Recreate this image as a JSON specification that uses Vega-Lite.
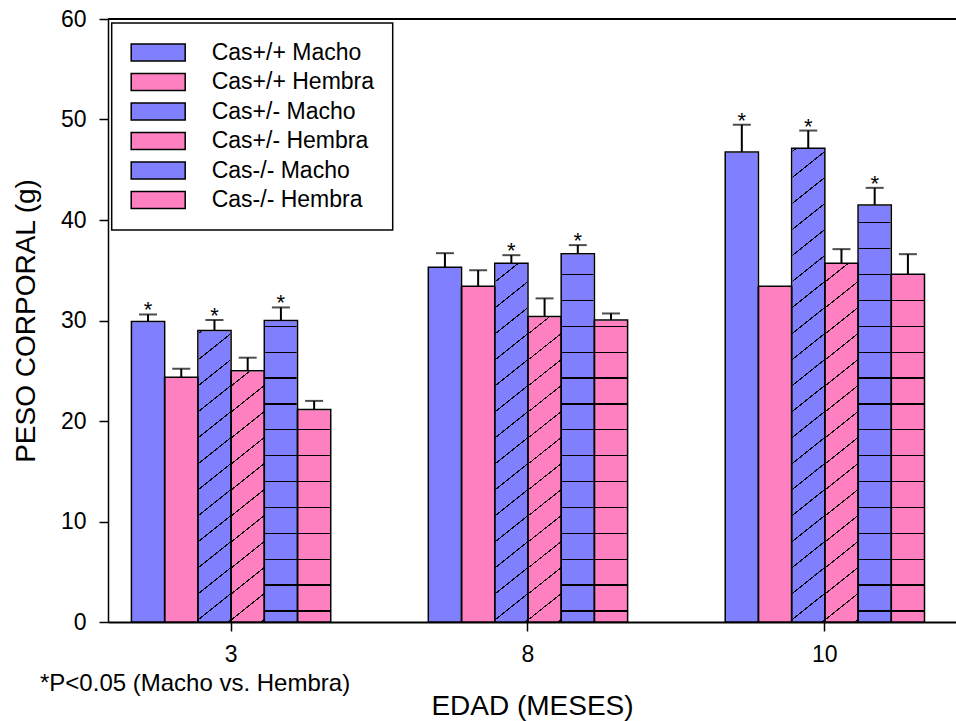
{
  "$schema": "https://vega.github.io/schema/vega-lite/v6.json",
  "width": 848,
  "height": 603,
  "autosize": {"type": "none"},
  "padding": {"left": 108, "top": 19, "right": 0, "bottom": 99},
  "config": {
    "view": {"stroke": null},
    "font": "Liberation Sans",
    "axis": {
      "domainColor": "black",
      "tickColor": "black",
      "labelColor": "black",
      "titleColor": "black",
      "labelFontSize": 23,
      "titleFontSize": 28,
      "titleFontWeight": "normal",
      "tickSize": 9,
      "tickWidth": 1.5,
      "domainWidth": 1.5,
      "grid": false
    }
  },
  "title": {
    "text": "*P<0.05 (Macho vs. Hembra)",
    "orient": "bottom",
    "anchor": "start",
    "frame": "group",
    "dx": -68,
    "dy": -52,
    "fontSize": 24,
    "fontWeight": "normal",
    "color": "black"
  },
  "data": {
    "values": [
      {"edad": 3, "serie": "Cas+/+ Macho", "peso": 29.9, "sup": 30.6, "sig": "*"},
      {"edad": 3, "serie": "Cas+/+ Hembra", "peso": 24.35, "sup": 25.2, "sig": ""},
      {"edad": 3, "serie": "Cas+/- Macho", "peso": 29.0, "sup": 30.05, "sig": "*"},
      {"edad": 3, "serie": "Cas+/- Hembra", "peso": 25.0, "sup": 26.3, "sig": ""},
      {"edad": 3, "serie": "Cas-/- Macho", "peso": 30.0, "sup": 31.3, "sig": "*"},
      {"edad": 3, "serie": "Cas-/- Hembra", "peso": 21.15, "sup": 22.0, "sig": ""},
      {"edad": 8, "serie": "Cas+/+ Macho", "peso": 35.3, "sup": 36.7, "sig": ""},
      {"edad": 8, "serie": "Cas+/+ Hembra", "peso": 33.4, "sup": 35.0, "sig": ""},
      {"edad": 8, "serie": "Cas+/- Macho", "peso": 35.7, "sup": 36.5, "sig": "*"},
      {"edad": 8, "serie": "Cas+/- Hembra", "peso": 30.4, "sup": 32.2, "sig": ""},
      {"edad": 8, "serie": "Cas-/- Macho", "peso": 36.65, "sup": 37.5, "sig": "*"},
      {"edad": 8, "serie": "Cas-/- Hembra", "peso": 30.05, "sup": 30.7, "sig": ""},
      {"edad": 10, "serie": "Cas+/+ Macho", "peso": 46.77, "sup": 49.48, "sig": "*"},
      {"edad": 10, "serie": "Cas+/+ Hembra", "peso": 33.4, "sup": null, "sig": ""},
      {"edad": 10, "serie": "Cas+/- Macho", "peso": 47.13, "sup": 48.9, "sig": "*"},
      {"edad": 10, "serie": "Cas+/- Hembra", "peso": 35.7, "sup": 37.1, "sig": ""},
      {"edad": 10, "serie": "Cas-/- Macho", "peso": 41.5, "sup": 43.2, "sig": "*"},
      {"edad": 10, "serie": "Cas-/- Hembra", "peso": 34.6, "sup": 36.6, "sig": ""}
    ]
  },
  "layer": [
    {
      "mark": {"type": "bar"},
      "encoding": {
        "x": {"field": "edad", "type": "ordinal",
          "scale": {"domain": [3, 8, 10], "paddingInner": 0.3287, "paddingOuter": 0.0925, "align": 0.4266},
          "axis": {"title": "EDAD (MESES)", "labelAngle": 0, "labelPadding": 12, "titlePadding": 26, "domainWidth": 2}},
        "xOffset": {"field": "serie", "type": "nominal", "sort": null,
          "scale": {"domain": ["Cas+/+ Macho", "Cas+/+ Hembra", "Cas+/- Macho", "Cas+/- Hembra", "Cas-/- Macho", "Cas-/- Hembra"], "paddingInner": 0, "paddingOuter": 0}},
        "y": {"field": "peso", "type": "quantitative", "scale": {"domain": [0, 60], "nice": false},
          "axis": {"values": [0, 10, 20, 30, 40, 50, 60], "title": "PESO CORPORAL (g)", "labelPadding": 13, "titlePadding": 20}},
        "fill": {"field": "serie", "type": "nominal", "sort": null,
          "scale": {"domain": ["Cas+/+ Macho", "Cas+/+ Hembra", "Cas+/- Macho", "Cas+/- Hembra", "Cas-/- Macho", "Cas-/- Hembra"],
                    "range": ["#8080FF", "#FF80C0", "#8080FF", "#FF80C0", "#8080FF", "#FF80C0"]},
          "legend": {
            "orient": "none", "legendX": 3.7, "legendY": 4, "title": null,
            "symbolType": "M-3.176,-1H3.176V1H-3.176Z", "symbolSize": 289,
            "symbolOffset": 17, "labelOffset": 42,
            "symbolStrokeColor": "black", "symbolStrokeWidth": 1.5,
            "labelFontSize": 23, "labelColor": "black", "labelLimit": 400,
            "padding": 18, "rowPadding": 5.5,
            "fillColor": "white", "strokeColor": "black",
            "encode": {
              "legend": {"update": {"strokeWidth": {"value": 1.5}}},
              "symbols": {"update": {"stroke": {"value": "black"}, "strokeWidth": {"value": 1.5}}}
            }
          }}
      }
    },
    {
      "transform": [{"filter": "datum.serie === 'Cas+/- Macho' || datum.serie === 'Cas+/- Hembra'"}],
      "mark": {"type": "bar", "stroke": null, "color": {"gradient": "linear", "x1": 0, "y1": 0, "x2": 0.0459, "y2": 1.042, "stops": [
        {"offset": 0, "color": "rgba(0,0,0,0)"},
        {"offset": 0.1689, "color": "rgba(0,0,0,0)"}, {"offset": 0.1689, "color": "#000"}, {"offset": 0.1711, "color": "#000"}, {"offset": 0.1711, "color": "rgba(0,0,0,0)"},
        {"offset": 0.2102, "color": "rgba(0,0,0,0)"}, {"offset": 0.2102, "color": "#000"}, {"offset": 0.2124, "color": "#000"}, {"offset": 0.2124, "color": "rgba(0,0,0,0)"},
        {"offset": 0.2515, "color": "rgba(0,0,0,0)"}, {"offset": 0.2515, "color": "#000"}, {"offset": 0.2537, "color": "#000"}, {"offset": 0.2537, "color": "rgba(0,0,0,0)"},
        {"offset": 0.2928, "color": "rgba(0,0,0,0)"}, {"offset": 0.2928, "color": "#000"}, {"offset": 0.2950, "color": "#000"}, {"offset": 0.2950, "color": "rgba(0,0,0,0)"},
        {"offset": 0.3341, "color": "rgba(0,0,0,0)"}, {"offset": 0.3341, "color": "#000"}, {"offset": 0.3363, "color": "#000"}, {"offset": 0.3363, "color": "rgba(0,0,0,0)"},
        {"offset": 0.3754, "color": "rgba(0,0,0,0)"}, {"offset": 0.3754, "color": "#000"}, {"offset": 0.3776, "color": "#000"}, {"offset": 0.3776, "color": "rgba(0,0,0,0)"},
        {"offset": 0.4167, "color": "rgba(0,0,0,0)"}, {"offset": 0.4167, "color": "#000"}, {"offset": 0.4189, "color": "#000"}, {"offset": 0.4189, "color": "rgba(0,0,0,0)"},
        {"offset": 0.4580, "color": "rgba(0,0,0,0)"}, {"offset": 0.4580, "color": "#000"}, {"offset": 0.4602, "color": "#000"}, {"offset": 0.4602, "color": "rgba(0,0,0,0)"},
        {"offset": 0.4993, "color": "rgba(0,0,0,0)"}, {"offset": 0.4993, "color": "#000"}, {"offset": 0.5015, "color": "#000"}, {"offset": 0.5015, "color": "rgba(0,0,0,0)"},
        {"offset": 0.5406, "color": "rgba(0,0,0,0)"}, {"offset": 0.5406, "color": "#000"}, {"offset": 0.5428, "color": "#000"}, {"offset": 0.5428, "color": "rgba(0,0,0,0)"},
        {"offset": 0.5819, "color": "rgba(0,0,0,0)"}, {"offset": 0.5819, "color": "#000"}, {"offset": 0.5841, "color": "#000"}, {"offset": 0.5841, "color": "rgba(0,0,0,0)"},
        {"offset": 0.6232, "color": "rgba(0,0,0,0)"}, {"offset": 0.6232, "color": "#000"}, {"offset": 0.6254, "color": "#000"}, {"offset": 0.6254, "color": "rgba(0,0,0,0)"},
        {"offset": 0.6645, "color": "rgba(0,0,0,0)"}, {"offset": 0.6645, "color": "#000"}, {"offset": 0.6667, "color": "#000"}, {"offset": 0.6667, "color": "rgba(0,0,0,0)"},
        {"offset": 0.7058, "color": "rgba(0,0,0,0)"}, {"offset": 0.7058, "color": "#000"}, {"offset": 0.7080, "color": "#000"}, {"offset": 0.7080, "color": "rgba(0,0,0,0)"},
        {"offset": 0.7471, "color": "rgba(0,0,0,0)"}, {"offset": 0.7471, "color": "#000"}, {"offset": 0.7493, "color": "#000"}, {"offset": 0.7493, "color": "rgba(0,0,0,0)"},
        {"offset": 0.7884, "color": "rgba(0,0,0,0)"}, {"offset": 0.7884, "color": "#000"}, {"offset": 0.7906, "color": "#000"}, {"offset": 0.7906, "color": "rgba(0,0,0,0)"},
        {"offset": 0.8297, "color": "rgba(0,0,0,0)"}, {"offset": 0.8297, "color": "#000"}, {"offset": 0.8319, "color": "#000"}, {"offset": 0.8319, "color": "rgba(0,0,0,0)"},
        {"offset": 0.8710, "color": "rgba(0,0,0,0)"}, {"offset": 0.8710, "color": "#000"}, {"offset": 0.8732, "color": "#000"}, {"offset": 0.8732, "color": "rgba(0,0,0,0)"},
        {"offset": 0.9123, "color": "rgba(0,0,0,0)"}, {"offset": 0.9123, "color": "#000"}, {"offset": 0.9145, "color": "#000"}, {"offset": 0.9145, "color": "rgba(0,0,0,0)"},
        {"offset": 0.9536, "color": "rgba(0,0,0,0)"}, {"offset": 0.9536, "color": "#000"}, {"offset": 0.9558, "color": "#000"}, {"offset": 0.9558, "color": "rgba(0,0,0,0)"},
        {"offset": 0.9949, "color": "rgba(0,0,0,0)"}, {"offset": 0.9949, "color": "#000"}, {"offset": 0.9971, "color": "#000"}, {"offset": 0.9971, "color": "rgba(0,0,0,0)"},
        {"offset": 1, "color": "rgba(0,0,0,0)"}
      ]}},
      "encoding": {
        "x": {"field": "edad", "type": "ordinal"},
        "xOffset": {"field": "serie", "type": "nominal", "sort": null},
        "y": {"datum": 60},
        "y2": {"datum": 0}
      }
    },
    {
      "transform": [{"filter": "datum.serie === 'Cas-/- Macho' || datum.serie === 'Cas-/- Hembra'"}],
      "mark": {"type": "bar", "stroke": null, "color": {"gradient": "linear", "x1": 0, "y1": 0, "x2": 0, "y2": 1, "stops": [
        {"offset": 0, "color": "rgba(0,0,0,0)"},
        {"offset": 0.1652, "color": "rgba(0,0,0,0)"}, {"offset": 0.1652, "color": "#000"}, {"offset": 0.1674, "color": "#000"}, {"offset": 0.1674, "color": "rgba(0,0,0,0)"},
        {"offset": 0.2081, "color": "rgba(0,0,0,0)"}, {"offset": 0.2081, "color": "#000"}, {"offset": 0.2103, "color": "#000"}, {"offset": 0.2103, "color": "rgba(0,0,0,0)"},
        {"offset": 0.2511, "color": "rgba(0,0,0,0)"}, {"offset": 0.2511, "color": "#000"}, {"offset": 0.2533, "color": "#000"}, {"offset": 0.2533, "color": "rgba(0,0,0,0)"},
        {"offset": 0.2940, "color": "rgba(0,0,0,0)"}, {"offset": 0.2940, "color": "#000"}, {"offset": 0.2962, "color": "#000"}, {"offset": 0.2962, "color": "rgba(0,0,0,0)"},
        {"offset": 0.3369, "color": "rgba(0,0,0,0)"}, {"offset": 0.3369, "color": "#000"}, {"offset": 0.3391, "color": "#000"}, {"offset": 0.3391, "color": "rgba(0,0,0,0)"},
        {"offset": 0.3798, "color": "rgba(0,0,0,0)"}, {"offset": 0.3798, "color": "#000"}, {"offset": 0.3820, "color": "#000"}, {"offset": 0.3820, "color": "rgba(0,0,0,0)"},
        {"offset": 0.4227, "color": "rgba(0,0,0,0)"}, {"offset": 0.4227, "color": "#000"}, {"offset": 0.4249, "color": "#000"}, {"offset": 0.4249, "color": "rgba(0,0,0,0)"},
        {"offset": 0.4657, "color": "rgba(0,0,0,0)"}, {"offset": 0.4657, "color": "#000"}, {"offset": 0.4679, "color": "#000"}, {"offset": 0.4679, "color": "rgba(0,0,0,0)"},
        {"offset": 0.5086, "color": "rgba(0,0,0,0)"}, {"offset": 0.5086, "color": "#000"}, {"offset": 0.5108, "color": "#000"}, {"offset": 0.5108, "color": "rgba(0,0,0,0)"},
        {"offset": 0.5515, "color": "rgba(0,0,0,0)"}, {"offset": 0.5515, "color": "#000"}, {"offset": 0.5537, "color": "#000"}, {"offset": 0.5537, "color": "rgba(0,0,0,0)"},
        {"offset": 0.5944, "color": "rgba(0,0,0,0)"}, {"offset": 0.5944, "color": "#000"}, {"offset": 0.5966, "color": "#000"}, {"offset": 0.5966, "color": "rgba(0,0,0,0)"},
        {"offset": 0.6373, "color": "rgba(0,0,0,0)"}, {"offset": 0.6373, "color": "#000"}, {"offset": 0.6395, "color": "#000"}, {"offset": 0.6395, "color": "rgba(0,0,0,0)"},
        {"offset": 0.6802, "color": "rgba(0,0,0,0)"}, {"offset": 0.6802, "color": "#000"}, {"offset": 0.6824, "color": "#000"}, {"offset": 0.6824, "color": "rgba(0,0,0,0)"},
        {"offset": 0.7232, "color": "rgba(0,0,0,0)"}, {"offset": 0.7232, "color": "#000"}, {"offset": 0.7254, "color": "#000"}, {"offset": 0.7254, "color": "rgba(0,0,0,0)"},
        {"offset": 0.7661, "color": "rgba(0,0,0,0)"}, {"offset": 0.7661, "color": "#000"}, {"offset": 0.7683, "color": "#000"}, {"offset": 0.7683, "color": "rgba(0,0,0,0)"},
        {"offset": 0.8090, "color": "rgba(0,0,0,0)"}, {"offset": 0.8090, "color": "#000"}, {"offset": 0.8112, "color": "#000"}, {"offset": 0.8112, "color": "rgba(0,0,0,0)"},
        {"offset": 0.8519, "color": "rgba(0,0,0,0)"}, {"offset": 0.8519, "color": "#000"}, {"offset": 0.8541, "color": "#000"}, {"offset": 0.8541, "color": "rgba(0,0,0,0)"},
        {"offset": 0.8949, "color": "rgba(0,0,0,0)"}, {"offset": 0.8949, "color": "#000"}, {"offset": 0.8971, "color": "#000"}, {"offset": 0.8971, "color": "rgba(0,0,0,0)"},
        {"offset": 0.9378, "color": "rgba(0,0,0,0)"}, {"offset": 0.9378, "color": "#000"}, {"offset": 0.9400, "color": "#000"}, {"offset": 0.9400, "color": "rgba(0,0,0,0)"},
        {"offset": 0.9807, "color": "rgba(0,0,0,0)"}, {"offset": 0.9807, "color": "#000"}, {"offset": 0.9829, "color": "#000"}, {"offset": 0.9829, "color": "rgba(0,0,0,0)"},
        {"offset": 1, "color": "rgba(0,0,0,0)"}
      ]}},
      "encoding": {
        "x": {"field": "edad", "type": "ordinal"},
        "xOffset": {"field": "serie", "type": "nominal", "sort": null},
        "y": {"datum": 60},
        "y2": {"datum": 0}
      }
    },
    {
      "mark": {"type": "bar", "fill": "white", "stroke": "white", "strokeWidth": 1.5},
      "encoding": {
        "x": {"field": "edad", "type": "ordinal"},
        "xOffset": {"field": "serie", "type": "nominal", "sort": null},
        "y": {"field": "peso", "type": "quantitative"},
        "y2": {"datum": 60}
      }
    },
    {
      "mark": {"type": "bar", "fill": null, "fillOpacity": 0, "stroke": "black", "strokeWidth": 1.5},
      "encoding": {
        "x": {"field": "edad", "type": "ordinal"},
        "xOffset": {"field": "serie", "type": "nominal", "sort": null},
        "y": {"field": "peso", "type": "quantitative"}
      }
    },
    {
      "transform": [{"filter": "datum.sup != null"}],
      "mark": {"type": "rule", "stroke": "black", "strokeWidth": 2},
      "encoding": {
        "x": {"field": "edad", "type": "ordinal"},
        "xOffset": {"field": "serie", "type": "nominal", "sort": null},
        "y": {"field": "peso", "type": "quantitative"},
        "y2": {"field": "sup"}
      }
    },
    {
      "transform": [{"filter": "datum.sup != null"}],
      "mark": {"type": "tick", "orient": "horizontal", "color": "black", "size": 18, "thickness": 2},
      "encoding": {
        "x": {"field": "edad", "type": "ordinal"},
        "xOffset": {"field": "serie", "type": "nominal", "sort": null},
        "y": {"field": "sup", "type": "quantitative"}
      }
    },
    {
      "transform": [{"filter": "datum.sig === '*'"}],
      "mark": {"type": "text", "fontSize": 22, "color": "black", "baseline": "alphabetic", "dy": 3},
      "encoding": {
        "x": {"field": "edad", "type": "ordinal"},
        "xOffset": {"field": "serie", "type": "nominal", "sort": null},
        "y": {"field": "sup", "type": "quantitative"},
        "text": {"field": "sig"}
      }
    },
    {
      "mark": {"type": "rule", "stroke": "black", "strokeWidth": 2},
      "encoding": {
        "y": {"datum": 60}
      }
    }
  ]
}
